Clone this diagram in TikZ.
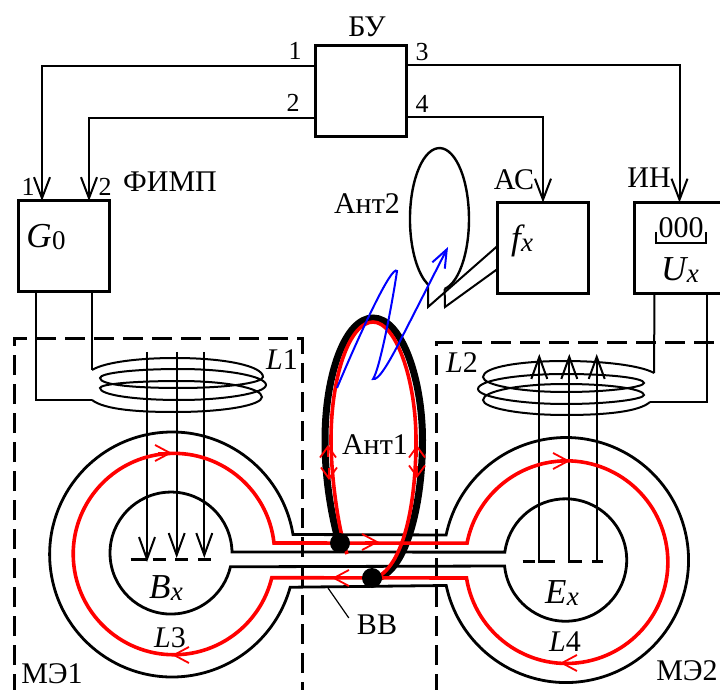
\documentclass[tikz,border=0pt]{standalone}
\usepackage{fontspec}
\setmainfont{Liberation Serif}
\usetikzlibrary{arrows.meta}

\tikzset{
  block/.style={draw, line width=3pt, minimum width=91pt, minimum height=91pt, inner sep=0pt, outer sep=0pt},
  lab/.style={font=\fontsize{30}{30}\selectfont, inner sep=0pt},
  num/.style={font=\fontsize{26}{26}\selectfont, inner sep=0pt},
  wire/.style={line width=2pt},
  core/.style={line width=2.8pt},
  loopred/.style={red, line width=3.6pt},
  tipred/.style={red, line width=1.8pt, -{Straight Barb[length=15pt,width=16pt]}},
  tipant/.style={red, line width=1.8pt, -{Straight Barb[length=11pt,width=16pt]}},
  tipfield/.style={line width=2pt, -{Straight Barb[length=22pt,width=16pt]}},
  sep/.style={line width=3pt, dash pattern=on 20pt off 9pt},
}
\newcommand{\symb}[2]{{\fontsize{35}{35}\selectfont\itshape #1}\kern.03em\raisebox{-.22em}{\fontsize{27}{27}\selectfont #2}}

\begin{document}
\begin{tikzpicture}[x=1pt, y=1pt, >={Straight Barb[length=21pt,width=16pt]}]
\useasboundingbox (0,0) rectangle (720,689);

% blocks
\node[block] (bu) at (361,597.5) {};
\node[block] (g0) at (64,442.5) {};
\node[block] (fx) at (543,441) {};
\node[block] (ux) at (679.5,441) {};

\draw[wire,->] ([yshift=-20pt]bu.north west) -| ([xshift=23.5pt]g0.north west);
\draw[wire,->] ([yshift=-72pt]bu.north west) -| ([xshift=70.5pt]g0.north west);
\draw[wire,->] ([yshift=-19pt]bu.north east) -| (ux.north);
\draw[wire,->] ([yshift=-71pt]bu.north east) -| (fx.north);

\node[lab] (lbu) at (367,662) {БУ};
\node[num] (n1) at (295,638) {1};
\node[num] (n2) at (293,586) {2};
\node[num] (n3) at (422,637) {3};
\node[num] (n4) at (422,585) {4};
\node[num] (g1) at (28,502) {1};
\node[num] (g2) at (105,502) {2};
\node[lab] (lfimp) at (170,507) {ФИМП};
\node[lab] (lant2) at (367,485) {Ант2};
\node[lab] (las) at (514,509) {АС};
\node[lab] (lin) at (649,511) {ИН};
\node[inner sep=0pt] (lg0) at (46,452) {\symb{G}{0}};
\node[inner sep=0pt] (lfx) at (522,448) {\symb{f}{\textit{x}}};
\node[lab] (lnull) at (681,461) {000};
\node[inner sep=0pt] (lux) at (680,419) {\symb{U}{\textit{x}}};
\draw[wire] (656,457) -- (656,446) -- (706,446) -- (706,457);

% receiving antenna
\coordinate (a2l) at (428,404.6);
\coordinate (a2r) at (444.6,400);
\draw[wire, line width=2.4pt] (a2r) arc[start angle=-80, end angle=247, x radius=29.5, y radius=71];
\draw[wire] (a2l) -- (428,382) -- ([yshift=2pt]fx.west);
\draw[wire] (a2r) -- (445,382) -- ([yshift=-21pt]fx.west);

% separators
\draw[sep] (14,-5) -- (14,350) -- (302,350) -- (302,-5);
\draw[sep] (436,-5) -- (436,346) -- (725,346);

% coils
\coordinate (l1a) at (92,319);
\coordinate (l1b) at (92,289);
\coordinate (l2a) at (654,316);
\coordinate (l2b) at (650,287);
\draw[wire] ([xshift=17.5pt]g0.south west) |- (l1b);
\draw[wire] ([xshift=-17.5pt]g0.south east) -- (l1a);
\draw[wire] ([xshift=20.5pt]ux.south west) -- (l2a);
\draw[wire] ([xshift=72.5pt]ux.south west) |- (l2b);

\draw[wire] (l1a) .. controls (105,327) and (140,331) .. (175,331) .. controls (225,331) and (263,323) .. (263,312) .. controls (263,306) and (225,301) .. (180,301) .. controls (135,301) and (100,304) .. (100,311) .. controls (100,316) and (135,320) .. (180,320) .. controls (225,320) and (266,313) .. (266,304) .. controls (266,296) and (225,289) .. (180,289) .. controls (135,289) and (100,294) .. (100,301) .. controls (100,305) and (135,308) .. (180,308) .. controls (225,308) and (262,301) .. (262,292) .. controls (262,284) and (225,277) .. (175,277) .. controls (140,277) and (105,279) .. (l1b);

\draw[wire] (l2a) .. controls (640,324) and (600,328) .. (565,328) .. controls (520,328) and (483,322) .. (483,312) .. controls (483,304) and (520,297) .. (565,297) .. controls (610,297) and (644,302) .. (644,306) .. controls (644,311) and (610,315) .. (565,315) .. controls (520,315) and (478,309) .. (478,300) .. controls (478,292) and (520,285) .. (565,285) .. controls (610,285) and (644,290) .. (644,294) .. controls (644,300) and (610,305) .. (565,305) .. controls (520,305) and (483,298) .. (483,289) .. controls (483,281) and (520,274) .. (565,274) .. controls (610,274) and (640,278) .. (l2b);

\node[lab] (ll1) at (282,329) {\textit{L}1};
\node[lab] (ll2) at (462,326) {\textit{L}2};

% magnetic elements
\draw[core] (293,154.5) arc[start angle=9.4, end angle=344.5, radius=122.5] -- (446.2,103.5) arc[start angle=192, end angle=528.2, radius=122.5] -- cycle;
\draw[core] (232,137) arc[start angle=1, end angle=347, radius=61] -- (504.6,123) arc[start angle=185.6, end angle=532.6, radius=61.2] -- cycle;

% field lines
\draw[tipfield] (147,337) -- (147,127);
\foreach \x in {176.7,204.3}
\draw[tipfield] (\x,337) -- (\x,131);
\foreach \x in {539.3,569.3,596.7}
\draw[tipfield] (\x,126) -- (\x,335);
\foreach \a/\b in {130.7/147,152.7/165.7,175/188,198/211}
\draw[line width=3pt] (\a,130) -- (\b,130);
\foreach \a/\b in {522.7/535,540/555,568/582,592/603}
\draw[line width=3pt] (\a,128) -- (\b,128);

% transmitting antenna and lines
\draw[line width=7pt] (339,146) .. controls (330,179) and (325,214) .. (325,249) .. controls (325,314) and (345,371) .. (373,371) .. controls (402,371) and (422.5,309) .. (422.5,249) .. controls (422.5,189) and (408,121) .. (378,111);
\draw[loopred] (274,146) arc[start angle=6.3, end angle=346.4, radius=100.7] -- (466.5,111) arc[start angle=189, end angle=529.2, radius=101.3] -- cycle;
\draw[loopred] (347,135) .. controls (338,160) and (331,214) .. (331,249) .. controls (331,314) and (350,367) .. (373,367) .. controls (396,367) and (416,309) .. (416,249) .. controls (416,189) and (405,125) .. (376,111);

\foreach \a/\b/\c/\d in {158/236/172/236,186/34/172/34,556/228/570/228,574/26/560/26,365/147/379/147,346/111/332/111}
\draw[tipred] (\a,\b) -- (\c,\d);
\foreach \a/\b/\c/\d in {328/232/328/244,329/221/329/209,417/232/417/244,417/223/417/211}
\draw[tipant] (\a,\b) -- (\c,\d);

\fill (340,146) circle (10);
\fill (372,111) circle (10);

\draw[blue, line width=2pt, -{Straight Barb[length=18pt,width=14pt]}] (337,301) .. controls (360,356) and (392,425) .. (397,418) .. controls (393,390) and (380,320) .. (373,310) .. controls (378,308) and (388,325) .. (398,344) -- (448,442);

% labels below
\node[lab] (lant1) at (375,244) {Ант1};
\node[inner sep=0pt] (lbx) at (166,101) {\symb{B}{\textit{x}}};
\node[inner sep=0pt] (lex) at (562,96) {\symb{E}{\textit{x}}};
\node[lab] (ll3) at (170,51) {\textit{L}3};
\node[lab] (ll4) at (565,47) {\textit{L}4};
\node[lab] (lme1) at (52,15) {МЭ1};
\node[lab] (lme2) at (687,18) {МЭ2};
\node[lab] (lbb) at (377,64) {ВВ};
\coordinate (bbend) at (328,101);
\draw[line width=1.2pt] ([xshift=-8pt,yshift=-3pt]lbb.north west) -- (bbend);

\end{tikzpicture}
\end{document}
